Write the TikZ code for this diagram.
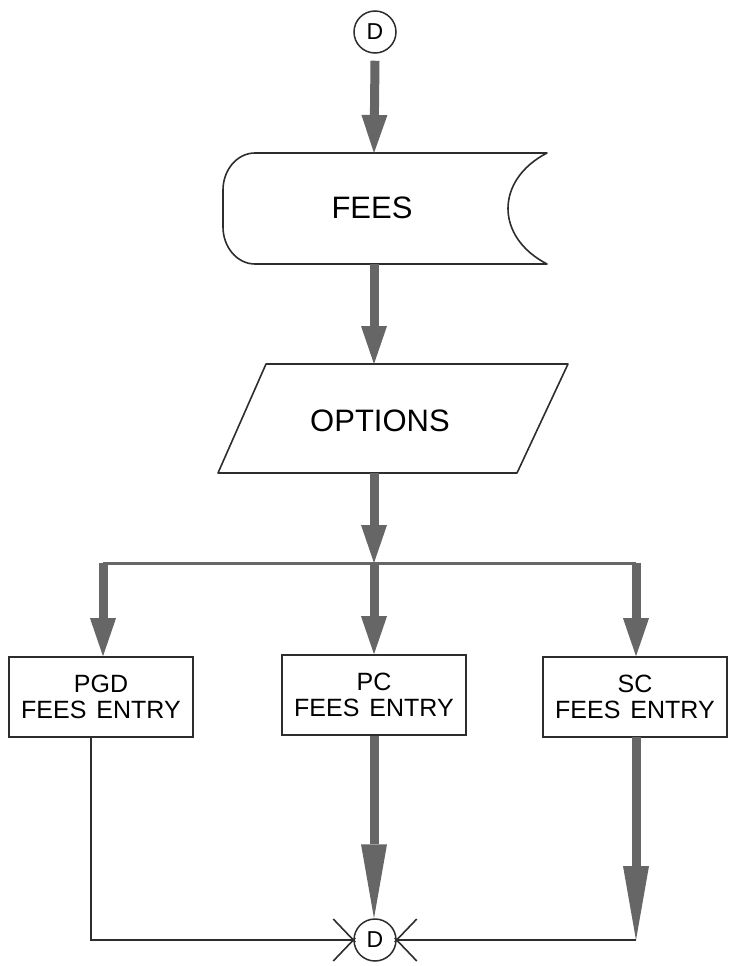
\documentclass[tikz,border=0pt]{standalone}
\usepackage{fontspec}
\setmainfont{Liberation Sans}
\usetikzlibrary{arrows.meta}
\definecolor{ink}{RGB}{45,45,45}
\definecolor{flow}{RGB}{102,102,102}
\begin{document}
\begin{tikzpicture}[x=1pt,y=-1pt,
  outline/.style={draw=ink,line width=1.6pt,line join=round},
  thinline/.style={draw=ink,line width=1.6pt},
  fatarrow/.style={draw=flow,line width=9pt,-{Triangle[width=26pt,length=38pt,line width=0pt]}},
  longarrow/.style={draw=flow,line width=9pt,-{Triangle[width=26pt,length=74pt,line width=0pt]}},
  conn/.style={circle,draw=ink,line width=1.5pt,minimum size=42pt,inner sep=0pt,
    font=\fontsize{23}{23}\selectfont},
  entry/.style={rectangle,draw=ink,line width=1.6pt,minimum width=184pt,minimum height=80pt,
    align=center,font=\fontsize{25}{26}\selectfont},
  big/.style={font=\fontsize{31}{31}\selectfont}]
\useasboundingbox (0,0) rectangle (731,966);

% off-page connector at the top
\node[conn] (d1) at (375,32) {D};

% stored-data symbol
\draw[outline] (547,153) -- (255,153)
  .. controls (237,153) and (223,170) .. (223,190) -- (223,227)
  .. controls (223,247) and (237,264) .. (255,264) -- (547,264)
  .. controls (495,237) and (495,180) .. (547,153) -- cycle;
\node[big] (fees) at (372,208) {FEES};
\coordinate (feesTop) at (374,153);
\coordinate (feesBot) at (374,264);

% input/output symbol
\draw[outline] (266,364) -- (568,364) -- (517,473) -- (218,473) -- cycle;
\node[big] (opts) at (380,421) {OPTIONS};
\coordinate (optTop) at (374,364);
\coordinate (optBot) at (374,473);

% split point and branch line
\coordinate (brM) at (374,563);
\coordinate (brL) at (103,563);
\coordinate (brR) at (636,563);

% processing boxes
\node[entry] (pgd) at (101,697) {PGD\\FEES\hspace{0.4em}ENTRY};
\node[entry] (pc) at (374,695) {PC\\FEES\hspace{0.4em}ENTRY};
\node[entry] (sc) at (635,697) {SC\\FEES\hspace{0.4em}ENTRY};

% connector at the bottom
\node[conn] (d2) at (375,940) {D};
\coordinate (pgdOut) at (91,737);
\coordinate (scOut) at (636,737);

% flow arrows
\draw[fatarrow] ([yshift=-7pt]d1.south) -- (feesTop);
\draw[fatarrow] (feesBot) -- (optTop);
\draw[fatarrow] (optBot) -- (brM);
\draw[draw=flow,line width=3pt] (brL) -- (brR);
\draw[fatarrow] (brL) -- (brL |- pgd.north);
\draw[fatarrow] (brM) -- (brM |- pc.north);
\draw[fatarrow] (brR) -- (brR |- sc.north);
\draw[longarrow] (pc.south) -- (pc.south |- d2.north);
\draw[longarrow] (scOut) -- (scOut |- d2);

% merging lines into the bottom connector
\draw[thinline] (pgdOut) -- (pgdOut |- d2) -- (d2.west);
\draw[thinline] (scOut |- d2) -- (d2.east);
\draw[thinline] ([shift={(-20,-21)}]d2.west) -- ([shift={(2,2)}]d2.west);
\draw[thinline] ([shift={(-20,21)}]d2.west) -- ([shift={(2,-2)}]d2.west);
\draw[thinline] ([shift={(20,-21)}]d2.east) -- ([shift={(-2,2)}]d2.east);
\draw[thinline] ([shift={(20,21)}]d2.east) -- ([shift={(-2,-2)}]d2.east);
\end{tikzpicture}
\end{document}
